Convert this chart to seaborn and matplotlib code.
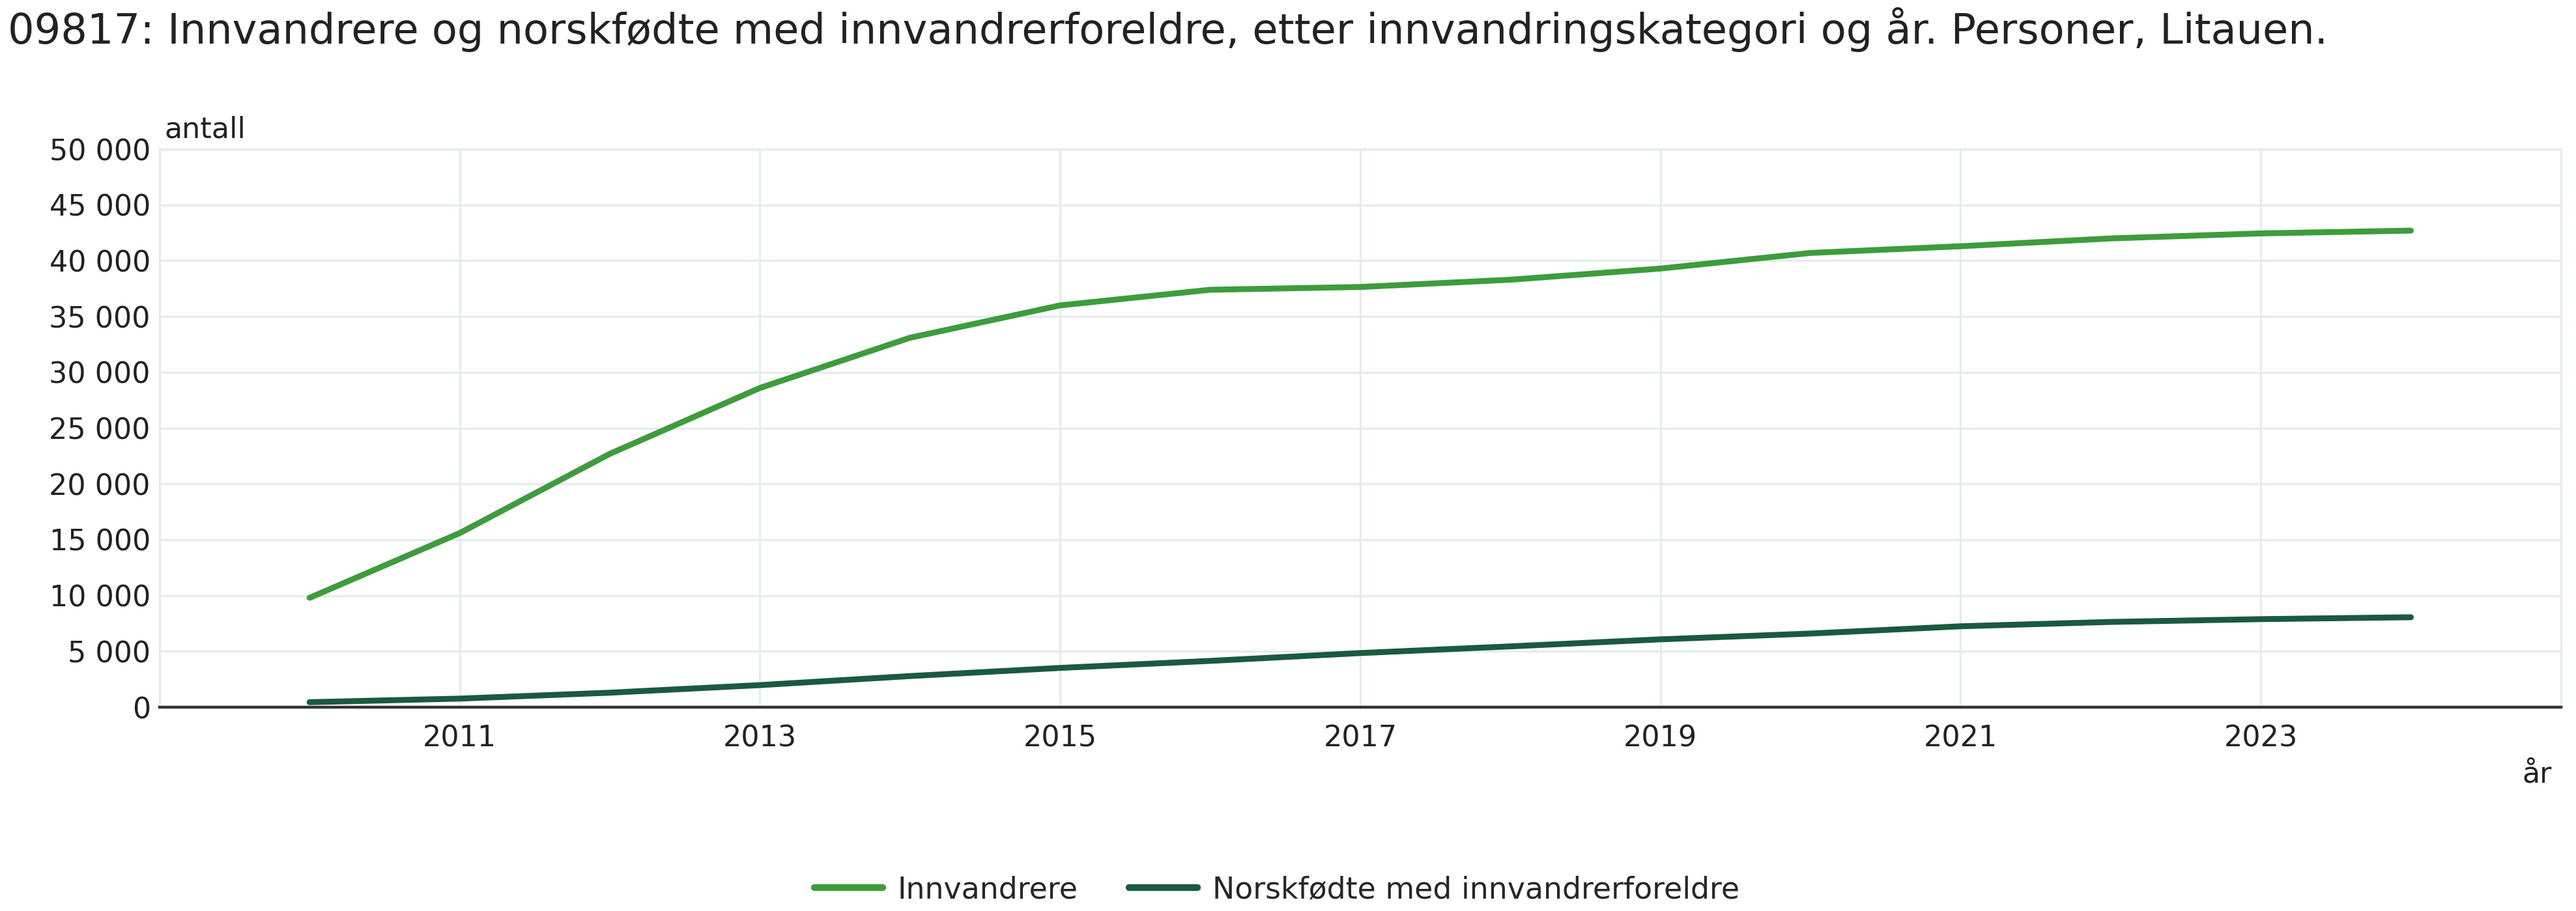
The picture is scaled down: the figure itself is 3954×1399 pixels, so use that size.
import matplotlib
matplotlib.use('Agg')
import matplotlib.pyplot as plt
import matplotlib.ticker as mticker
import pandas as pd
import seaborn as sns

years = list(range(2010, 2025))
innvandrere = [9800, 15600, 22700, 28600, 33100, 36000, 37400, 37650, 38300,
               39300, 40700, 41300, 42000, 42450, 42700]
norskfodte = [450, 770, 1300, 1980, 2790, 3520, 4150, 4850, 5450,
              6080, 6600, 7250, 7640, 7890, 8060]
series_names = ['Innvandrere', 'Norskfødte med innvandrerforeldre']
series_colors = ['#3e9c3d', '#1b5a40']
x_ticks = [2011, 2013, 2015, 2017, 2019, 2021, 2023]
y_ticks = list(range(0, 50001, 5000))

title = ('09817: Innvandrere og norskfødte med innvandrerforeldre, etter '
         'innvandringskategori og år. Personer, Litauen.')


def thousands(v, pos):
    return f'{int(v):,}'.replace(',', ' ')


def main() -> None:
    df = pd.DataFrame({
        'år': years * 2,
        'antall': innvandrere + norskfodte,
        'serie': [series_names[0]] * len(years) + [series_names[1]] * len(years),
    })

    sns.set_style('white')
    # the reference text is wide for its height, DejaVu comes closest
    plt.rcParams['font.family'] = ['DejaVu Sans']
    grid_col = '#e6ecec'
    txt_col = '#222222'
    fs = 32

    fig = plt.figure(figsize=(39.55, 13.99), dpi=100)
    ax = fig.add_axes([0.0619, 0.2237, 0.9320, 0.6126])

    sns.lineplot(data=df, x='år', y='antall', hue='serie',
                 palette=dict(zip(series_names, series_colors)),
                 linewidth=6.5, ax=ax, legend=True)

    ax.set_xlim(2009, 2025)
    ax.set_ylim(0, 50000)
    ax.set_xticks(x_ticks)
    ax.set_yticks(y_ticks)
    ax.yaxis.set_major_formatter(mticker.FuncFormatter(thousands))
    ax.grid(True, color=grid_col, linewidth=2.4)
    ax.set_axisbelow(True)
    ax.tick_params(axis='both', length=0, labelsize=fs, colors=txt_col)
    ax.tick_params(axis='x', pad=19)
    ax.tick_params(axis='y', pad=10)
    ax.set_xlabel('')
    ax.set_ylabel('')

    for side in ['left', 'right', 'top']:
        ax.spines[side].set_color(grid_col)
        ax.spines[side].set_linewidth(2.4)
    ax.spines['bottom'].set_color('#333333')
    ax.spines['bottom'].set_linewidth(3.2)

    fig.text(0.003, 1 - 45 / 1399, title, fontsize=46, va='center',
             ha='left', color=txt_col)
    fig.text(252 / 3955, 1 - 212 / 1399, 'antall', fontsize=fs,
             va='baseline', ha='left', color=txt_col)
    fig.text(3894 / 3955, 1 - 1202 / 1399, 'år', fontsize=fs,
             va='baseline', ha='center', color=txt_col)

    handles, labels = ax.get_legend_handles_labels()
    ax.legend_.remove()
    leg = fig.legend(handles, labels, loc='center',
                     bbox_to_anchor=(1960 / 3955, 1 - 1367 / 1399),
                     ncol=2, frameon=False, fontsize=33,
                     handlelength=2.3, handletextpad=0.5,
                     columnspacing=1.7)
    for line in leg.get_lines():
        line.set_linewidth(7.5)

    fig.savefig('out.png', dpi=100)


if __name__ == '__main__':
    main()
